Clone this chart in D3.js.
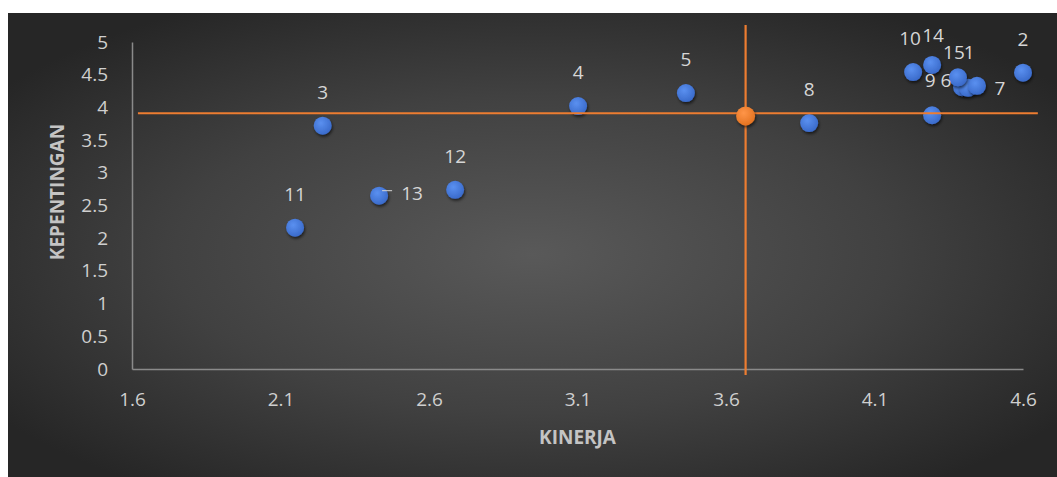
<!DOCTYPE html>
<html>
<head>
<meta charset="utf-8">
<script src="https://cdn.jsdelivr.net/npm/d3@7"></script>
<style>
  html, body { margin: 0; padding: 0; background: #ffffff; }
  svg { display: block; }
  text { font-family: "Open Sans", "Liberation Sans", sans-serif; }
</style>
</head>
<body>
<svg id="chart" width="1057" height="477"></svg>
<script>
// ---- data ----
const labels   = ["1", "2", "3", "4", "5", "6", "7", "8", "9", "10", "11", "12", "13", "14", "15"];
const kinerja  = [4.395, 4.60, 2.242, 3.102, 3.465, 4.415, 4.445, 3.88, 4.294, 4.23, 2.149, 2.688, 2.432, 4.294, 4.381];
const kepentingan = [4.31, 4.53, 3.72, 4.02, 4.22, 4.30, 4.33, 3.76, 3.88, 4.54, 2.16, 2.74, 2.65, 4.65, 4.46];
const meanPoint = [3.666, 3.87];           // [kinerja, kepentingan]
const hLine = [3.91, 1.62, 4.65];          // y value, x from, x to
const vLine = [3.666, -0.09, 5.26];        // x value, y from, y to
const xTicks = [1.6, 2.1, 2.6, 3.1, 3.6, 4.1, 4.6];
const yTicks = [0, 0.5, 1, 1.5, 2, 2.5, 3, 3.5, 4, 4.5, 5];
const xTitle = "KINERJA";
const yTitle = "KEPENTINGAN";

// ---- layout ----
const W = 1057, H = 477;
const svg = d3.select("#chart");
const x = d3.scaleLinear().domain([1.6, 4.6]).range([132, 1023]);
const y = d3.scaleLinear().domain([0, 5]).range([369, 42]);

const defs = svg.append("defs");
const bg = defs.append("radialGradient").attr("id", "bg")
  .attr("cx", "50%").attr("cy", "52%").attr("r", "62%");
bg.append("stop").attr("offset", "0%").attr("stop-color", "#595959");
bg.append("stop").attr("offset", "55%").attr("stop-color", "#414141");
bg.append("stop").attr("offset", "100%").attr("stop-color", "#262626");

const gBlue = defs.append("radialGradient").attr("id", "gBlue")
  .attr("cx", "40%").attr("cy", "35%").attr("r", "70%");
gBlue.append("stop").attr("offset", "0%").attr("stop-color", "#5a90f0");
gBlue.append("stop").attr("offset", "100%").attr("stop-color", "#3868c8");

const gOr = defs.append("radialGradient").attr("id", "gOr")
  .attr("cx", "40%").attr("cy", "35%").attr("r", "70%");
gOr.append("stop").attr("offset", "0%").attr("stop-color", "#ff9548");
gOr.append("stop").attr("offset", "100%").attr("stop-color", "#e2711f");

const sh = defs.append("filter").attr("id", "shadow")
  .attr("x", "-50%").attr("y", "-50%").attr("width", "200%").attr("height", "200%");
sh.append("feDropShadow").attr("dx", 1).attr("dy", 2).attr("stdDeviation", 1.8)
  .attr("flood-color", "#000").attr("flood-opacity", 0.6);

svg.append("rect").attr("x", 8).attr("y", 13).attr("width", W - 8).attr("height", H - 13)
  .attr("fill", "url(#bg)");

// axes
const tickColor = "#cfcfcf";
const xAxis = svg.append("g").attr("transform", `translate(0,${y(0)})`)
  .call(d3.axisBottom(x).tickValues(xTicks).tickSize(0).tickSizeOuter(0).tickPadding(24)
    .tickFormat(d3.format(".1f")));
const yAxis = svg.append("g").attr("transform", `translate(${x(1.6)},0)`)
  .call(d3.axisLeft(y).tickValues(yTicks).tickSize(0).tickSizeOuter(0).tickPadding(24)
    .tickFormat(d => String(d)));
[xAxis, yAxis].forEach(g => {
  g.select(".domain").attr("stroke", "#8a8a8a").attr("stroke-width", 1.5);
  g.selectAll("text").attr("fill", tickColor).attr("font-size", 19)
    .attr("font-family", "'Open Sans', sans-serif");
});

// titles
svg.append("text").attr("x", (x(1.6) + x(4.6)) / 2).attr("y", 444)
  .attr("text-anchor", "middle").attr("font-size", 19).attr("font-weight", "bold")
  .attr("fill", "#c4c4c4").text(xTitle);
svg.append("text").attr("transform", "translate(64,192) rotate(-90)")
  .attr("text-anchor", "middle").attr("font-size", 19).attr("font-weight", "bold")
  .attr("fill", "#c4c4c4").text(yTitle);

// blue points
const pts = labels.map((l, i) => ({ label: l, x: kinerja[i], y: kepentingan[i] }));
svg.append("g").selectAll("circle").data(pts).join("circle")
  .attr("cx", d => x(d.x)).attr("cy", d => y(d.y)).attr("r", 9)
  .attr("fill", "url(#gBlue)").attr("filter", "url(#shadow)");

// orange cross lines
const orange = "#ED7D31";
svg.append("line").attr("x1", x(hLine[1])).attr("x2", x(hLine[2]))
  .attr("y1", y(hLine[0])).attr("y2", y(hLine[0]))
  .attr("stroke", orange).attr("stroke-width", 2);
svg.append("line").attr("x1", x(vLine[0])).attr("x2", x(vLine[0]))
  .attr("y1", y(vLine[1])).attr("y2", y(vLine[2]))
  .attr("stroke", orange).attr("stroke-width", 2.2);
svg.append("circle").attr("cx", x(meanPoint[0])).attr("cy", y(meanPoint[1])).attr("r", 9.5)
  .attr("fill", "url(#gOr)").attr("filter", "url(#shadow)");

// data labels (default above the point; a few were moved in the original)
const labelShift = {
  "1": [7, -35], "6": [-22, -8], "7": [23, 2], "13": [33, -3],
  "14": [1, -30], "15": [-4, -25], "9": [-2, -35], "10": [-3, -34]
};
const lab = svg.append("g");
pts.forEach(d => {
  const s = labelShift[d.label] || [0, -34];
  lab.append("text").attr("x", x(d.x) + s[0]).attr("y", y(d.y) + s[1])
    .attr("dy", "0.36em").attr("text-anchor", "middle")
    .attr("font-size", 19).attr("fill", "#d6d6d6").text(d.label);
});
// leader line for label 13
const p13 = pts.find(d => d.label === "13");
lab.append("line").attr("x1", x(p13.x) + 3).attr("x2", x(p13.x) + 13)
  .attr("y1", y(p13.y) - 5).attr("y2", y(p13.y) - 5)
  .attr("stroke", "#d6d6d6").attr("stroke-width", 1);
</script>
</body>
</html>
